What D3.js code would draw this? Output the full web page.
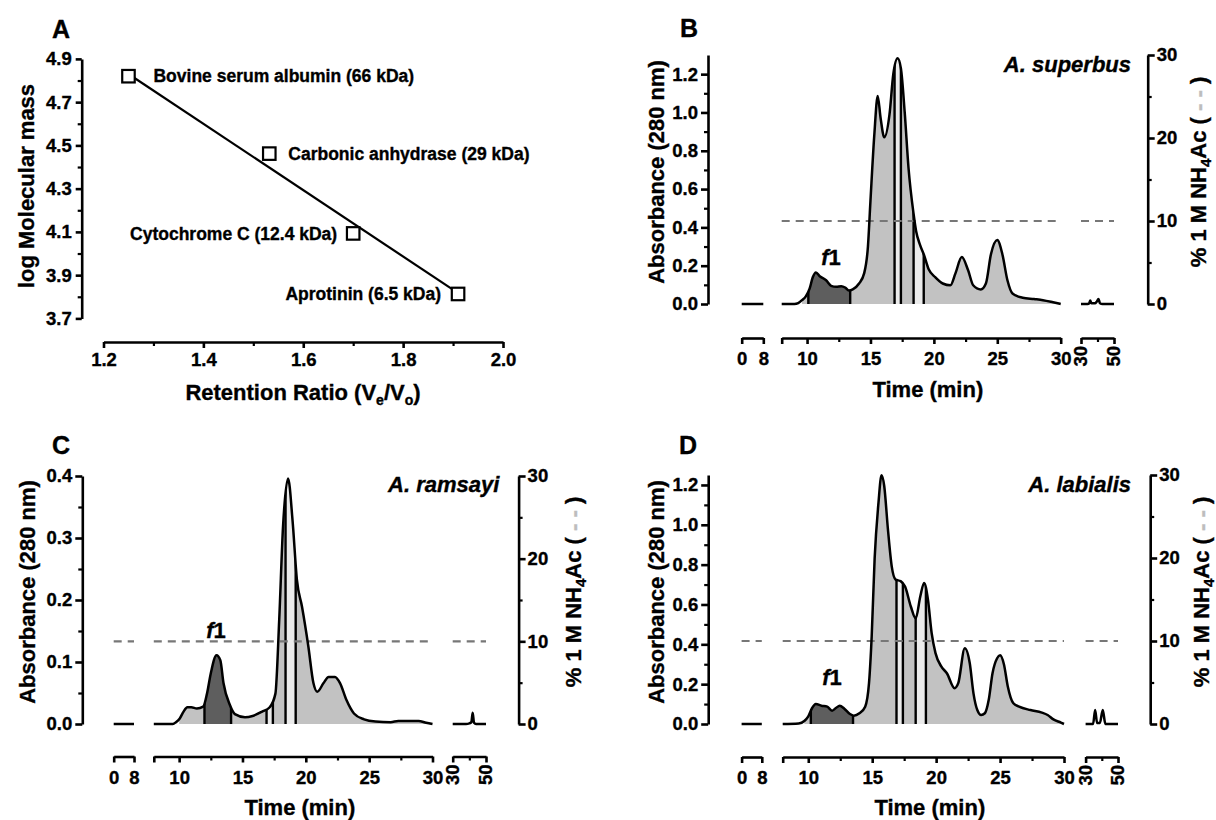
<!DOCTYPE html>
<html><head><meta charset="utf-8">
<script src="https://cdn.jsdelivr.net/npm/d3@7"></script>
<style>
html,body{margin:0;padding:0;background:#fff;}
svg{display:block;}
svg text{stroke:#000;stroke-width:0.35px;}
</style></head><body>
<svg id="chart" width="1216" height="820"></svg>
<script>
// ---------------- DATA ----------------
// Panel A: calibration standards
const standardNames = ["Bovine serum albumin (66 kDa)", "Carbonic anhydrase (29 kDa)", "Cytochrome C (12.4 kDa)", "Aprotinin (6.5 kDa)"];
const standardRatio = [1.25, 1.532, 1.70, 1.91];
const standardLogMass = [4.820, 4.462, 4.093, 3.813];
const fitRatio = [1.25, 1.905];
const fitLogMass = [4.83, 3.825];
const ratioTicks = [1.2, 1.4, 1.6, 1.8, 2.0];
const ratioMinorTicks = [1.3, 1.5, 1.7, 1.9];
const logMassTicks = [3.7, 3.9, 4.1, 4.3, 4.5, 4.7, 4.9];
const logMassMinorTicks = [3.8, 4.0, 4.2, 4.4, 4.6, 4.8];

// Chromatogram axes
const timeEarlyTicks = [0, 8];
const timeMainTicks = [8, 10, 15, 20, 25, 30];
const timeMainMinorTicks = [12.5, 17.5, 22.5, 27.5];
const timeLateTicks = [30, 50];
const timeLateMinorTicks = [40];
const gradientTicks = [0, 10, 20, 30];
const gradientMinorTicks = [5, 15, 25];
const gradientPercent = 10;
const earlyTime = [0, 8];
const earlyAbs = [0, 0];
const fractionShades = ["mid", "dark", "mid", "light", "mid", "light", "mid"];

// Panel B: A. superbus
const superbusTime = [8, 9.0, 9.3, 9.6, 9.9, 10.2, 10.45, 10.7, 11.0, 11.5, 11.9, 12.3, 12.7, 13.0, 13.3, 13.6, 14.1, 14.5, 14.8, 15.0, 15.3, 15.57, 15.8, 16.09, 16.5, 16.8, 17.14, 17.4, 17.7, 18.0, 18.4, 18.6, 18.9, 19.2, 19.6, 20.1, 20.7, 21.3, 21.7, 22.2, 22.7, 23.1, 23.7, 24.1, 24.5, 25.0, 25.4, 25.8, 26.2, 27.0, 27.9, 28.6, 29.4, 30];
const superbusAbs = [0, 0, 0.005, 0.02, 0.04, 0.08, 0.14, 0.165, 0.145, 0.124, 0.095, 0.09, 0.093, 0.086, 0.07, 0.076, 0.107, 0.16, 0.30, 0.54, 0.88, 1.086, 0.97, 0.87, 0.99, 1.2, 1.283, 1.23, 1.0, 0.71, 0.47, 0.38, 0.31, 0.26, 0.18, 0.14, 0.107, 0.098, 0.16, 0.245, 0.176, 0.098, 0.076, 0.107, 0.26, 0.334, 0.26, 0.124, 0.055, 0.033, 0.026, 0.02, 0.009, 0];
const superbusLateTime = [30, 34, 35, 35.6, 36.3, 38.5, 39.5, 40.6, 41.5, 43, 50];
const superbusLateAbs = [0, 0, 0.004, 0.018, 0.004, 0.004, 0.012, 0.026, 0.004, 0, 0];
const superbusCuts = [9.6, 10.1, 13.4, 16.9, 17.4, 18.4, 19.2, 30];

// Panel C: A. ramsayi
const ramsayiTime = [8, 9.5, 9.75, 10.05, 10.35, 10.65, 10.96, 11.4, 11.9, 12.2, 12.5, 12.95, 13.25, 13.5, 14.0, 14.4, 15.2, 15.8, 16.55, 17.15, 17.6, 17.9, 18.2, 18.6, 18.95, 19.3, 19.7, 20.2, 20.6, 20.9, 21.4, 21.8, 22.3, 22.7, 23.2, 23.8, 24.6, 25.5, 26.7, 27.3, 28.2, 28.9, 29.5, 30];
const ramsayiAbs = [0, 0, 0.003, 0.009, 0.02, 0.027, 0.027, 0.025, 0.028, 0.049, 0.082, 0.111, 0.103, 0.066, 0.031, 0.016, 0.011, 0.013, 0.02, 0.027, 0.049, 0.168, 0.318, 0.396, 0.329, 0.232, 0.189, 0.125, 0.066, 0.052, 0.066, 0.076, 0.076, 0.066, 0.039, 0.017, 0.0075, 0.004, 0.003, 0.005, 0.005, 0.005, 0.002, 0];
const ramsayiLateTime = [30, 38, 40, 41.2, 42, 42.8, 44, 50];
const ramsayiLateAbs = [0, 0, 0.001, 0.003, 0.018, 0.002, 0, 0];
const ramsayiCuts = [10.0, 12.0, 14.1, 16.9, 17.4, 18.4, 19.2, 30];

// Panel D: A. labialis
const labialisTime = [8, 9.25, 9.69, 9.99, 10.29, 10.59, 11.03, 11.48, 11.86, 12.16, 12.46, 12.82, 13.26, 13.56, 14.0, 14.45, 14.75, 14.96, 15.19, 15.49, 15.73, 15.94, 16.23, 16.53, 16.83, 17.22, 17.57, 18.02, 18.4, 18.76, 19.06, 19.36, 19.65, 19.95, 20.4, 20.84, 21.44, 21.73, 22.24, 22.63, 22.92, 23.22, 23.52, 23.81, 24.11, 24.41, 24.77, 25.0, 25.3, 25.6, 26.04, 26.49, 27.38, 28.27, 28.72, 29.17, 29.76, 30];
const labialisAbs = [0, 0.003, 0.015, 0.037, 0.079, 0.1, 0.092, 0.087, 0.067, 0.08, 0.092, 0.077, 0.05, 0.042, 0.054, 0.087, 0.205, 0.44, 0.83, 1.11, 1.249, 1.195, 0.977, 0.79, 0.725, 0.717, 0.69, 0.59, 0.53, 0.64, 0.708, 0.624, 0.456, 0.356, 0.289, 0.255, 0.18, 0.205, 0.38, 0.305, 0.154, 0.07, 0.045, 0.054, 0.12, 0.255, 0.33, 0.345, 0.3, 0.19, 0.104, 0.087, 0.07, 0.057, 0.045, 0.023, 0.007, 0];
const labialisLateTime = [30, 34.6, 35.9, 37.1, 38.8, 40.6, 42.2, 50];
const labialisLateAbs = [0, 0, 0.07, 0.005, 0.005, 0.07, 0, 0];
const labialisCuts = [9.7, 10.2, 13.5, 16.9, 17.4, 18.4, 19.2, 30];

// ---------------- DRAWING ----------------
const FONT = "'Liberation Sans', Arial, Helvetica, sans-serif";
const TICK_FS = 18.5, TITLE_FS = 22;
const AXIS_W = 2.6;
const SHADE = {dark: "#5e5e5e", mid: "#c2c2c2", light: "#ebebeb"};
const svg = d3.select("#chart").attr("font-family", FONT).attr("font-weight", "bold");

function styleAxis(g, fs) {
  g.attr("font-family", FONT).attr("font-size", fs || TICK_FS).attr("font-weight", "bold");
  g.selectAll(".domain").attr("stroke", "#000").attr("stroke-width", AXIS_W);
  g.selectAll(".tick line").attr("stroke", "#000").attr("stroke-width", AXIS_W);
  g.selectAll(".tick text").attr("fill", "#000");
}
function minorAxis(g) {
  g.select(".domain").remove();
  g.selectAll(".tick line").attr("stroke", "#000").attr("stroke-width", 2.2);
}

// ----- Panel A -----
(function () {
  const xA = d3.scaleLinear().domain([1.2, 2.0]).range([103.5, 503]);
  const yA = d3.scaleLinear().domain([3.7, 4.9]).range([318.4, 58.9]);
  const ax = svg.append("g").attr("transform", "translate(0,342)")
    .call(d3.axisBottom(xA).tickValues(ratioTicks).tickSize(6).tickPadding(5).tickSizeOuter(0).tickFormat(d3.format(".1f")));
  styleAxis(ax);
  svg.append("g").attr("transform", "translate(0,342)")
    .call(d3.axisBottom(xA).tickValues(ratioMinorTicks).tickSize(4).tickFormat("")).call(minorAxis);
  const ay = svg.append("g").attr("transform", "translate(81.7,0)")
    .call(d3.axisLeft(yA).tickValues(logMassTicks).tickSize(6).tickPadding(4).tickSizeOuter(0).tickFormat(d3.format(".1f")));
  styleAxis(ay);
  svg.append("g").attr("transform", "translate(81.7,0)")
    .call(d3.axisLeft(yA).tickValues(logMassMinorTicks).tickSize(4).tickFormat("")).call(minorAxis);

  const fit = fitRatio.map((r, i) => [r, fitLogMass[i]]);
  svg.append("path").datum(fit)
    .attr("d", d3.line().x(d => xA(d[0])).y(d => yA(d[1])))
    .attr("stroke", "#000").attr("stroke-width", 2.2).attr("fill", "none");

  const S = 12.5;
  svg.selectAll("rect.std").data(standardRatio).join("rect").attr("class", "std")
    .attr("x", d => xA(d) - S / 2).attr("y", (d, i) => yA(standardLogMass[i]) - S / 2)
    .attr("width", S).attr("height", S)
    .attr("fill", "#fff").attr("stroke", "#000").attr("stroke-width", 2.2);

  const labelDx = [25, 19, -16, -17];
  const labelAnchor = ["start", "start", "end", "end"];
  svg.selectAll("text.std").data(standardNames).join("text").attr("class", "std")
    .attr("x", (d, i) => xA(standardRatio[i]) + labelDx[i])
    .attr("y", (d, i) => yA(standardLogMass[i]))
    .attr("dy", "0.35em").attr("text-anchor", (d, i) => labelAnchor[i])
    .attr("font-size", 17.5).text(d => d);

  svg.append("text").attr("transform", "translate(34,186) rotate(-90)")
    .attr("text-anchor", "middle").attr("font-size", TITLE_FS).text("log Molecular mass");
  const xt = svg.append("text").attr("x", 303).attr("y", 400).attr("text-anchor", "middle").attr("font-size", TITLE_FS);
  xt.append("tspan").text("Retention Ratio (V");
  xt.append("tspan").attr("font-size", 14).attr("dy", 5).text("e");
  xt.append("tspan").attr("dy", -5).text("/V");
  xt.append("tspan").attr("font-size", 14).attr("dy", 5).text("o");
  xt.append("tspan").attr("dy", -5).text(")");
  svg.append("text").attr("x", 61).attr("y", 38).attr("text-anchor", "middle").attr("font-size", 25).text("A");
})();

// ----- Chromatogram panels -----
function chrom(cfg) {
  const id = cfg.letter;
  const g = svg.append("g");
  const y = d3.scaleLinear().domain([0, cfg.absMax]).range([cfg.y0, cfg.yTop]);
  const yR = d3.scaleLinear().domain([0, 30]).range([cfg.y0, cfg.yTop]);
  const x1 = d3.scaleLinear().domain([0, 8]).range(cfg.seg1);
  const x2 = d3.scaleLinear().domain([8, 30]).range(cfg.seg2);
  const x3 = d3.scaleLinear().domain([30, 50]).range(cfg.seg3);
  const segs = [x1, x2, x3];

  const main = cfg.time.map((t, i) => [t, cfg.abs[i]]);
  const early = earlyTime.map((t, i) => [t, earlyAbs[i]]);
  const late = cfg.lateTime.map((t, i) => [t, cfg.lateAbs[i]]);
  const curve = d3.curveMonotoneX;

  // area clip
  const area = d3.area().x(d => x2(d[0])).y0(y(0)).y1(d => y(d[1])).curve(curve);
  g.append("clipPath").attr("id", "clip" + id).append("path").attr("d", area(main));
  for (let i = 0; i < cfg.cuts.length - 1; i++) {
    g.append("rect").attr("x", x2(cfg.cuts[i])).attr("width", x2(cfg.cuts[i + 1]) - x2(cfg.cuts[i]))
      .attr("y", cfg.yTop - 5).attr("height", cfg.y0 - cfg.yTop + 5)
      .attr("fill", SHADE[fractionShades[i]]).attr("clip-path", `url(#clip${id})`);
  }
  for (let i = 1; i < cfg.cuts.length - 1; i++) {
    g.append("line").attr("x1", x2(cfg.cuts[i])).attr("x2", x2(cfg.cuts[i]))
      .attr("y1", cfg.y0).attr("y2", cfg.yTop - 5)
      .attr("stroke", "#000").attr("stroke-width", 2.4).attr("clip-path", `url(#clip${id})`);
  }

  // gradient dashed line
  cfg.gradSegs.forEach(si => {
    const s = segs[si];
    const dom = s.domain();
    g.append("line").attr("x1", s(dom[0])).attr("x2", s(dom[1]))
      .attr("y1", yR(gradientPercent)).attr("y2", yR(gradientPercent))
      .attr("stroke", "#777").attr("stroke-width", 2.2).attr("stroke-dasharray", "8,6");
  });

  // traces
  const ln = (xs) => d3.line().x(d => xs(d[0])).y(d => y(d[1])).curve(curve);
  [[early, x1], [main, x2], [late, x3]].forEach(([d, xs]) => {
    g.append("path").datum(d).attr("d", ln(xs)).attr("fill", "none")
      .attr("stroke", "#000").attr("stroke-width", 2.5).attr("stroke-linejoin", "round");
  });

  // left axis
  const la = g.append("g").attr("transform", `translate(${cfg.leftX},0)`)
    .call(d3.axisLeft(y).tickValues(cfg.absTicks).tickSize(7).tickPadding(3).tickSizeOuter(0).tickFormat(d3.format(".1f")));
  styleAxis(la);
  g.append("g").attr("transform", `translate(${cfg.leftX},0)`)
    .call(d3.axisLeft(y).tickValues(cfg.absMinor).tickSize(4).tickFormat("")).call(minorAxis);
  // right axis
  const ra = g.append("g").attr("transform", `translate(${cfg.rightX},0)`)
    .call(d3.axisRight(yR).tickValues(gradientTicks).tickSize(7).tickPadding(2).tickSizeOuter(0));
  styleAxis(ra);
  g.append("g").attr("transform", `translate(${cfg.rightX},0)`)
    .call(d3.axisRight(yR).tickValues(gradientMinorTicks).tickSize(4).tickFormat("")).call(minorAxis);

  // x axes
  const xa1 = g.append("g").attr("transform", `translate(0,${cfg.axisY})`)
    .call(d3.axisBottom(x1).tickValues(timeEarlyTicks).tickSize(6).tickPadding(8).tickSizeOuter(0));
  styleAxis(xa1);
  const xa2 = g.append("g").attr("transform", `translate(0,${cfg.axisY})`)
    .call(d3.axisBottom(x2).tickValues(timeMainTicks).tickSize(6).tickPadding(8).tickSizeOuter(0).tickFormat(d => d === 8 ? "" : d));
  styleAxis(xa2);
  g.append("g").attr("transform", `translate(0,${cfg.axisY})`)
    .call(d3.axisBottom(x2).tickValues(timeMainMinorTicks).tickSize(4).tickFormat("")).call(minorAxis);
  const xa3 = g.append("g").attr("transform", `translate(0,${cfg.axisY})`)
    .call(d3.axisBottom(x3).tickValues(timeLateTicks).tickSize(6).tickSizeOuter(0).tickFormat(""));
  styleAxis(xa3);
  g.append("g").attr("transform", `translate(0,${cfg.axisY})`)
    .call(d3.axisBottom(x3).tickValues(timeLateMinorTicks).tickSize(4).tickFormat("")).call(minorAxis);
  g.selectAll("text.late").data(timeLateTicks).join("text").attr("class", "late")
    .attr("transform", d => `translate(${x3(d)},${cfg.axisY + 8}) rotate(-90)`)
    .attr("text-anchor", "end").attr("dy", "0.35em").attr("font-size", TICK_FS).text(d => d);

  // titles
  const xc = (cfg.seg1[0] + cfg.seg3[1]) / 2;
  g.append("text").attr("x", xc).attr("y", cfg.timeTitleY).attr("text-anchor", "middle").attr("font-size", TITLE_FS).text("Time (min)");
  g.append("text").attr("transform", `translate(${cfg.leftTitleX},${cfg.titleCY}) rotate(-90)`)
    .attr("text-anchor", "middle").attr("dy", "0.35em").attr("font-size", TITLE_FS).text("Absorbance (280 nm)");
  const rt = g.append("text").attr("transform", `translate(${cfg.rightTitleX},${cfg.titleCY}) rotate(-90)`)
    .attr("text-anchor", "middle").attr("dy", "0.35em").attr("font-size", TITLE_FS);
  rt.append("tspan").text("% 1 M NH");
  rt.append("tspan").attr("font-size", 15).attr("dy", 5).text("4");
  rt.append("tspan").attr("dy", -5).text("Ac (");
  rt.append("tspan").attr("fill", "#bdbdbd").attr("stroke", "#bdbdbd").text(" - - ");
  rt.append("tspan").text(")");

  g.append("text").attr("x", cfg.letterX).attr("y", cfg.letterY).attr("text-anchor", "middle").attr("font-size", 25).text(cfg.letter);
  g.append("text").attr("x", cfg.speciesX).attr("y", cfg.speciesY).attr("text-anchor", "end")
    .attr("font-size", 22).attr("font-style", "italic").text(cfg.species);
  const f = g.append("text").attr("x", cfg.f1X).attr("y", cfg.f1Y).attr("text-anchor", "middle").attr("font-size", 22);
  f.append("tspan").attr("font-style", "italic").text("f");
  f.append("tspan").text("1");
}

chrom({letter: "B", species: "A. superbus", time: superbusTime, abs: superbusAbs, lateTime: superbusLateTime, lateAbs: superbusLateAbs, cuts: superbusCuts,
  absMax: 1.3, absTicks: [0, 0.2, 0.4, 0.6, 0.8, 1.0, 1.2], absMinor: [0.1, 0.3, 0.5, 0.7, 0.9, 1.1],
  y0: 304, yTop: 55, leftX: 708, rightX: 1147.7, seg1: [741.7, 763.3], seg2: [781.7, 1060.7], seg3: [1081, 1114], axisY: 338,
  gradSegs: [1, 2], letterX: 689, letterY: 37, speciesX: 1131, speciesY: 72, f1X: 831, f1Y: 265,
  leftTitleX: 656, rightTitleX: 1198, titleCY: 172, timeTitleY: 397});

chrom({letter: "C", species: "A. ramsayi", time: ramsayiTime, abs: ramsayiAbs, lateTime: ramsayiLateTime, lateAbs: ramsayiLateAbs, cuts: ramsayiCuts,
  absMax: 0.4, absTicks: [0, 0.1, 0.2, 0.3, 0.4], absMinor: [0.05, 0.15, 0.25, 0.35],
  y0: 724, yTop: 476, leftX: 82.3, rightX: 518.6, seg1: [113.7, 134], seg2: [153.8, 432.5], seg3: [452.7, 486], axisY: 756.5,
  gradSegs: [0, 1, 2], letterX: 61, letterY: 454, speciesX: 499.4, speciesY: 492, f1X: 216, f1Y: 638,
  leftTitleX: 27, rightTitleX: 573, titleCY: 592, timeTitleY: 815});

chrom({letter: "D", species: "A. labialis", time: labialisTime, abs: labialisAbs, lateTime: labialisLateTime, lateAbs: labialisLateAbs, cuts: labialisCuts,
  absMax: 1.25, absTicks: [0, 0.2, 0.4, 0.6, 0.8, 1.0, 1.2], absMinor: [0.1, 0.3, 0.5, 0.7, 0.9, 1.1],
  y0: 724, yTop: 475, leftX: 708.2, rightX: 1150.2, seg1: [741.6, 761.8], seg2: [782.7, 1064], seg3: [1085.6, 1118], axisY: 757,
  gradSegs: [0, 1, 2], letterX: 688, letterY: 454, speciesX: 1131, speciesY: 492, f1X: 832, f1Y: 685,
  leftTitleX: 656, rightTitleX: 1201, titleCY: 592, timeTitleY: 815});
</script>
</body></html>
